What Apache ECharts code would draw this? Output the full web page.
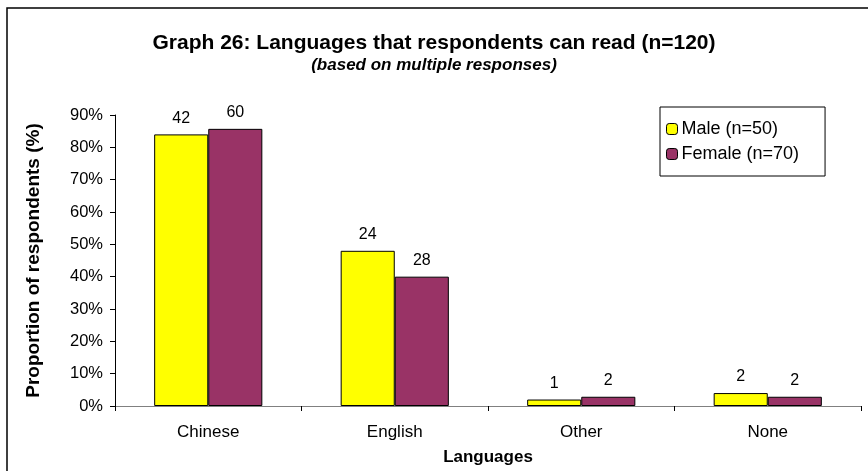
<!DOCTYPE html>
<html>
<head>
<meta charset="utf-8">
<script src="https://cdn.jsdelivr.net/npm/echarts@6/dist/echarts.min.js"></script>
<style>
  html, body { margin: 0; padding: 0; background: #fff; }
  #chart { width: 868px; height: 471px; }
</style>
</head>
<body>
<div id="chart"></div>
<script>
// Languages respondents can read, counts per gender (multiple responses)
const categories = ['Chinese', 'English', 'Other', 'None'];
const maleCounts = [42, 24, 1, 2];
const femaleCounts = [60, 28, 2, 2];
const maleN = 50;
const femaleN = 70;
const seriesNames = ['Male (n=50)', 'Female (n=70)'];

// Bars are drawn as the share of each gender group; labels show the raw counts
function toShare(counts, n) {
  return counts.map(c => ({ value: c / n * 100, count: c }));
}

const font = 'Arial, "Liberation Sans", sans-serif';
const chart = echarts.init(document.getElementById('chart'));

function barSeries(name, counts, n, color) {
  return {
    name: name,
    type: 'bar',
    data: toShare(counts, n),
    barGap: '0%',
    barCategoryGap: '42%',
    itemStyle: { color: color, borderColor: '#000', borderWidth: 1 },
    label: {
      show: true,
      position: 'top',
      distance: 8,
      formatter: p => p.data.count,
      color: '#000',
      fontFamily: font,
      fontSize: 16
    }
  };
}

chart.setOption({
  animation: false,
  backgroundColor: '#fff',
  graphic: [{
    type: 'rect',
    shape: { x: 7, y: 8, width: 900, height: 500 },
    style: { fill: 'none', stroke: '#000', lineWidth: 1.5 },
    silent: true
  }],
  title: {
    text: 'Graph 26: Languages that respondents can read (n=120)',
    subtext: '(based on multiple responses)',
    left: 'center',
    top: 28,
    itemGap: 3,
    textStyle: { fontFamily: font, fontSize: 21, fontWeight: 'bold', color: '#000' },
    subtextStyle: { fontFamily: font, fontSize: 17, fontWeight: 'bold', fontStyle: 'italic', color: '#000' }
  },
  legend: {
    orient: 'vertical',
    left: 660,
    top: 107,
    itemWidth: 11,
    itemHeight: 11,
    itemGap: 7,
    padding: [13, 26, 13, 6],
    borderColor: '#000',
    borderWidth: 1,
    textStyle: { fontFamily: font, fontSize: 18, lineHeight: 18, color: '#000', padding: [0, 0, 0, -1] },
    itemStyle: { borderColor: '#000', borderWidth: 1 },
    data: seriesNames
  },
  grid: { left: 115, right: 7, top: 115, bottom: 62, containLabel: false },
  xAxis: {
    type: 'category',
    data: categories,
    name: 'Languages',
    nameLocation: 'middle',
    nameGap: 43,
    nameTextStyle: { fontFamily: font, fontSize: 17, fontWeight: 'bold', color: '#000' },
    axisLine: { lineStyle: { color: '#808080', width: 1 } },
    axisTick: { show: true, length: 5, lineStyle: { color: '#000' } },
    axisLabel: { fontFamily: font, fontSize: 17, color: '#000', margin: 18 }
  },
  yAxis: {
    type: 'value',
    min: 0,
    max: 90,
    interval: 10,
    name: 'Proportion of respondents (%)',
    nameLocation: 'middle',
    nameGap: 72,
    nameTextStyle: { fontFamily: font, fontSize: 19, fontWeight: 'bold', color: '#000' },
    axisLine: { show: true, lineStyle: { color: '#000', width: 1 } },
    axisTick: { show: true, length: 5, lineStyle: { color: '#000' } },
    splitLine: { show: false },
    axisLabel: { formatter: '{value}%', fontFamily: font, fontSize: 16.5, color: '#000', margin: 12 }
  },
  series: [
    barSeries(seriesNames[0], maleCounts, maleN, '#FFFF00'),
    barSeries(seriesNames[1], femaleCounts, femaleN, '#993366')
  ]
});
</script>
</body>
</html>
